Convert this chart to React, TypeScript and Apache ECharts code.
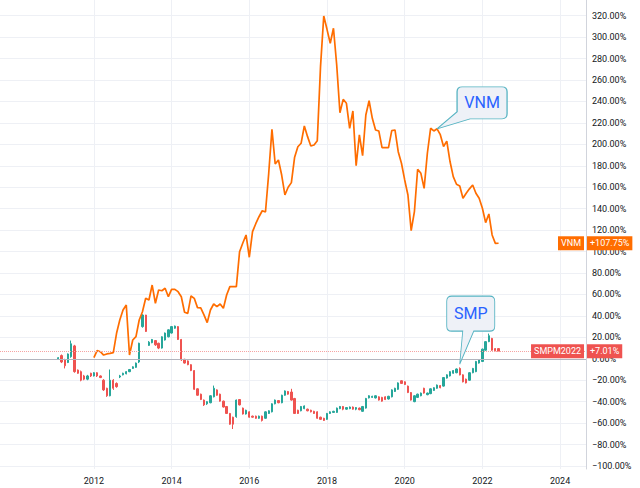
import React, { useEffect, useRef } from 'react';
import * as echarts from 'echarts';

// ---------- data ----------
const firstMonth = '2009-08';
const lastMonth = '2024-09';

const yearLabels = ['2012', '2014', '2016', '2018', '2020', '2022', '2024'];
const yTicks = [-100, -80, -60, -40, -20, 0, 20, 40, 60, 80, 100, 120, 140, 160, 180, 200, 220, 240, 260, 280, 300, 320];

// VNM comparison line, % change, monthly from 2012-01
const vnmStart = '2012-01';
const vnmValues = [
  1, 7.6, 6.6, 3.5, 4.5, 5, 5.7, 23.8, 36.2, 45.5, 50.2, 3.5,
  17.5, 20.6, 36.2, 43.9, 56.4, 54.8, 68.8, 51.8, 64.2, 63.5, 65.8, 57.9,
  64.8, 64.8, 62.6, 57.9, 43.4, 42.4, 58.6, 56.4, 47.7, 47.4, 40.9, 33.7,
  45.5, 51.1, 48.6, 51.1, 47.1, 59.5, 67.3, 67.3, 67.3, 99.9, 108, 115.5,
  94.7, 118.6, 126, 132.5, 138.1, 136.9, 173, 214, 181.7, 185.4, 171.4, 152.8,
  160, 164.3, 188, 197.8, 201, 217.1, 207.2, 198.5, 199.4, 203.4, 272.5, 319.7,
  307.3, 294.3, 308.3, 274, 229.5, 242, 238.3, 215, 231.1, 180.1, 208.8, 189.4,
  227.4, 240.7, 224.3, 213.4, 212.5, 196.9, 196.9, 196.9, 212.8, 213.4, 193.2, 182.4,
  166.8, 152.8, 119.5, 137.2, 176.8, 173, 159, 191.7, 215, 212.5, 214.5, 209,
  198, 203, 184, 169.9, 162.8, 161.2, 149.7, 154.4, 158.5, 162.1, 154.4, 149.7,
  140.4, 127, 135.1, 115.5, 107.7, 107.75,
];

// SMP monthly candles, % change: [open, close, low, high], from 2011-02
const smpStart = '2011-02';
const smpCandles: number[][] = [
  [0, 1, -1, 1.5], [3, -3, -4, 4], [-1, -6.5, -9, 0], [-3.5, 4.5, -4, 5], [2, 14, 1, 17],
  [12, -12, -13, 13], [-10.5, -13.5, -14, -10], [-12, -20, -21, -11], [-16, -19, -20, -15], [-19, -16, -20, -15],
  [-13.5, -16, -17, -13], [-16, -13, -16.5, -12.5], [-13, -16, -17, -12.5], [-16, -17.5, -18, -15.5], [-20, -29, -30, -19],
  [-27.5, -34.5, -35.5, -27], [-34.5, -20, -35, -10], [-20, -27.5, -29, -19], [-23, -26, -27, -22], [-17, -16, -18, -15],
  [-15, -13.5, -15.5, -13], [-14, -12, -14.5, -11.5], [-12, -10, -12.5, -9.5], [-9, -7.5, -9.5, -7], [-8, -4, -8.5, -3.5],
  [-3, 14.5, -4, 15], [30, 40.8, 29, 41.5], [40.8, 25.5, 25, 41], [12.5, 15.5, 12, 16.5], [15, 18, 14.5, 18.5],
  [17, 13, 12, 17.5], [14.5, 10, 9, 15], [10, 20.5, 9.5, 21], [17.5, 24, 17, 24.5], [20.5, 27, 20, 27.5],
  [24, 30, 23.5, 30.5], [28.5, 30.5, 28, 31], [30, 18, 17.5, 30.5], [18, -1, -2, 18.5], [-0.5, -4, -4.5, 0],
  [-2, -5.5, -6, -1.5], [-5.5, -11, -11.5, -5], [-11, -28.5, -29, -10.5], [-28, -34, -34.5, -27.5], [-33, -38, -38.5, -32.5],
  [-38.5, -43, -44, -38], [-42, -40, -43, -39.5], [-41, -34.5, -41.5, -34], [-35.5, -27.5, -36, -25], [-29, -34, -34.5, -28.5],
  [-33, -39.5, -40, -32.5], [-39.5, -45, -45.5, -39], [-44.5, -51, -51.5, -44], [-51, -61, -61.5, -50.5], [-54.5, -61, -65.5, -54],
  [-54, -38.5, -55, -38], [-38, -43, -43.5, -37.5], [-46, -51.5, -52, -45.5], [-51.5, -48, -52, -47.5], [-49.5, -54.5, -55, -49],
  [-53.5, -54.5, -55, -53], [-53.5, -55.5, -56, -53], [-55.5, -53.5, -56, -53], [-53.5, -57.5, -58.5, -53], [-55.5, -49.5, -56, -49],
  [-51, -48.5, -51.5, -48], [-49.5, -42, -50, -41.5], [-42, -38.5, -42.5, -38], [-39, -41, -41.5, -38.5], [-41, -34, -41.5, -33.5],
  [-34, -30, -34.5, -29.5], [-30.5, -33, -33.5, -30], [-31, -38.5, -39, -28], [-37, -51, -51.5, -36.5], [-48, -51, -51.5, -47.5],
  [-48.5, -44.5, -49, -44], [-46.5, -44, -47, -43.5], [-47, -48.5, -49, -46.5], [-48, -49.5, -50, -47.5], [-49, -51, -51.5, -48.5],
  [-49.5, -55.5, -56, -49], [-54.5, -56.5, -57, -54], [-55.5, -57.5, -58, -55], [-56.5, -51, -57, -50.5], [-51, -49.5, -51.5, -49],
  [-50, -49, -50.5, -48.5], [-50, -46, -50.5, -45.5], [-46.5, -44.5, -47, -44], [-44.5, -47, -48, -44], [-47, -45.5, -47.5, -45],
  [-46.5, -45, -47, -44.5], [-45, -47, -47.5, -44.5], [-47, -45.5, -48, -45], [-46, -47.5, -48, -45.5], [-49, -44.5, -49.5, -44],
  [-46, -37, -46.5, -36.5], [-36.5, -34.5, -37, -34], [-36, -35, -36.5, -34.5], [-36.5, -34.5, -37, -34], [-35.5, -38.5, -39, -35],
  [-36, -39.5, -40, -35.5], [-35.5, -38, -38.5, -35], [-37.5, -35, -38, -34.5], [-35.5, -29, -36, -28.5], [-30.5, -27.5, -31, -27],
  [-28.5, -22.5, -29, -22], [-20.5, -23, -23.5, -20], [-21.5, -24, -24.5, -21], [-25.5, -31.5, -32, -25], [-31.5, -38.5, -39, -31],
  [-40, -34.5, -40.5, -34], [-36, -33, -36.5, -32.5], [-34.5, -32, -35, -31.5], [-27.5, -32, -32.5, -27], [-33.5, -32, -34, -31.5],
  [-32.5, -28, -33, -27.5], [-29.5, -27, -30, -26.5], [-27.5, -24.5, -28, -24], [-25, -27, -27.5, -24.5], [-25.5, -17.5, -26, -17],
  [-18, -15, -18.5, -14.5], [-16, -12, -16.5, -11.5], [-13.5, -11, -14, -10.5], [-13, -9.5, -13.5, -9], [-9, -15, -15.5, -8],
  [-15, -21.5, -22, -14.5], [-19, -22.5, -23, -18.5], [-20, -13, -20.5, -12.5], [-13, -9, -13.5, -8.5], [-12, -2.5, -12.5, -2],
  [-4, -1, -4.5, -0.5], [-2.5, 9, -3, 9.5], [8, 16, 7.5, 16.5], [16, 21.5, 15.5, 23.5], [19, 8, 7.5, 19.5],
  [9.5, 7.5, 7, 10], [9.5, 7.01, 7, 10],
];

// callout anchors (category, value)
const vnmCalloutMonth = '2020-11';
const smpCalloutMonth = '2021-06';
const smpCalloutValue = -5;

// ---------- helpers ----------
function monthList(from: string, to: string): string[] {
  const out: string[] = [];
  let y = +from.slice(0, 4);
  let m = +from.slice(5, 7);
  const ty = +to.slice(0, 4);
  const tm = +to.slice(5, 7);
  while (y < ty || (y === ty && m <= tm)) {
    out.push(`${y}-${String(m).padStart(2, '0')}`);
    m++;
    if (m > 12) { m = 1; y++; }
  }
  return out;
}

const months = monthList(firstMonth, lastMonth);

const fmtPct = (v: number) => (v < 0 ? '\u2212' : '') + Math.abs(v).toFixed(2) + '%';
const fmtChg = (v: number) => (v >= 0 ? '+' : '\u2212') + Math.abs(v).toFixed(2) + '%';
const isYearTick = (_i: number, v: string) => v.endsWith('-01') && yearLabels.includes(v.slice(0, 4));

const vnmOffset = months.indexOf(vnmStart);
const vnmData = months.map((_, i) => {
  const j = i - vnmOffset;
  return j >= 0 && j < vnmValues.length ? vnmValues[j] : '-';
});
const smpOffset = months.indexOf(smpStart);
const smpData = months.map((_, i) => {
  const j = i - smpOffset;
  return j >= 0 && j < smpCandles.length ? smpCandles[j] : ['-', '-', '-', '-'];
});

const vnmLast = vnmValues[vnmValues.length - 1];
const smpLast = smpCandles[smpCandles.length - 1][1];
const vnmCalloutValue = vnmValues[months.indexOf(vnmCalloutMonth) - vnmOffset];

const ORANGE = '#ff6d00';
const RED = '#ef5350';
const TEAL = '#26a69a';
const GRID = '#eef0f5';
const TEXT = '#131722';
const FONT = 'Roboto, "Liberation Sans", sans-serif';
const HIDDEN_LINE = { color: 'rgba(0,0,0,0)', width: 0 };

const bubbleStyle = { color: '#eef1f7', borderColor: '#55b3c2', borderWidth: 1 };
const bubbleLabel = { show: true, color: '#2962ff', fontSize: 16, fontFamily: FONT };

const boxLabel = (text: string, bg: string, position: string, distance: number) => ({
  show: true,
  position,
  distance,
  formatter: text,
  backgroundColor: bg,
  color: '#ffffff',
  fontSize: 9,
  fontFamily: FONT,
  lineHeight: 10,
  padding: [2, 3, 2, 3],
});

export default function App() {
  const ref = useRef<HTMLDivElement>(null);
  useEffect(() => {
    const chart = echarts.init(ref.current!, null, { renderer: 'svg' });
    chart.setOption({
      animation: false,
      backgroundColor: '#ffffff',
      grid: { left: 0, right: 54, top: 0, bottom: 19, containLabel: false },
      xAxis: {
        type: 'category',
        data: months,
        boundaryGap: false,
        axisLine: { show: true, lineStyle: { color: '#d1d4dc' } },
        axisTick: { show: false },
        axisLabel: {
          interval: isYearTick,
          formatter: (v: string) => v.slice(0, 4),
          color: TEXT,
          fontSize: 9,
          fontFamily: FONT,
          margin: 7,
        },
        splitLine: { show: true, interval: isYearTick, lineStyle: { color: GRID, width: 1 } },
      },
      yAxis: {
        type: 'value',
        position: 'right',
        min: -102.8,
        max: 334.65,
        axisLine: { show: true, lineStyle: { color: '#d1d4dc' } },
        axisTick: { show: false, customValues: yTicks },
        axisLabel: {
          customValues: yTicks,
          formatter: fmtPct,
          color: TEXT,
          fontSize: 9,
          fontFamily: FONT,
          margin: 6,
        },
        splitLine: { show: true, lineStyle: { color: GRID, width: 1 } },
      },
      series: [
        {
          name: 'SMPM2022',
          type: 'candlestick',
          data: smpData,
          barWidth: 1.8,
          itemStyle: {
            color: TEAL,
            color0: RED,
            borderColor: TEAL,
            borderColor0: RED,
            borderWidth: 1,
          },
          markLine: {
            silent: true,
            symbol: ['none', 'none'],
            data: [
              { yAxis: 0, lineStyle: { color: '#b2b5be', type: 'solid', width: 1 }, label: { show: false } },
              {
                yAxis: smpLast,
                lineStyle: { color: '#f5a4a3', type: 'dotted', width: 1 },
                label: boxLabel(fmtChg(smpLast), RED, 'end', 1),
              },
              {
                yAxis: smpLast,
                lineStyle: HIDDEN_LINE,
                label: boxLabel('SMPM2022', RED, 'insideEnd', 2),
              },
            ],
          },
          markPoint: {
            silent: true,
            data: [
              {
                coord: [smpCalloutMonth, smpCalloutValue],
                symbol: 'path://M5 0 H43 Q48 0 48 5 V30 Q48 35 43 35 H27 L13 68 L16 35 H5 Q0 35 0 30 V5 Q0 0 5 0 Z',
                symbolSize: [48, 68],
                symbolOffset: [11, -34],
                itemStyle: bubbleStyle,
                label: { ...bubbleLabel, formatter: 'SMP', offset: [0, -16.5] },
              },
            ],
          },
          z: 2,
        },
        {
          name: 'VNM',
          type: 'line',
          data: vnmData,
          symbol: 'none',
          showSymbol: false,
          lineStyle: { color: ORANGE, width: 1.7 },
          itemStyle: { color: ORANGE },
          markLine: {
            silent: true,
            symbol: ['none', 'none'],
            data: [
              {
                yAxis: vnmLast,
                lineStyle: HIDDEN_LINE,
                label: boxLabel(fmtChg(vnmLast), ORANGE, 'end', 1),
              },
              {
                yAxis: vnmLast,
                lineStyle: HIDDEN_LINE,
                label: boxLabel('VNM', ORANGE, 'insideEnd', 2),
              },
            ],
          },
          markPoint: {
            silent: true,
            data: [
              {
                coord: [vnmCalloutMonth, vnmCalloutValue],
                symbol: 'path://M25 0 H65 Q70 0 70 5 V27 Q70 32 65 32 H33 L0 42 L20 25 V5 Q20 0 25 0 Z',
                symbolSize: [70, 42],
                symbolOffset: [35, -21],
                itemStyle: bubbleStyle,
                label: { ...bubbleLabel, formatter: 'VNM', offset: [10, -5] },
              },
            ],
          },
          z: 3,
        },
      ],
    });
    return () => chart.dispose();
  }, []);
  return (
    <div
      ref={ref}
      style={{ position: 'fixed', left: 0, top: 0, width: 640, height: 488, background: '#fff' }}
    />
  );
}
